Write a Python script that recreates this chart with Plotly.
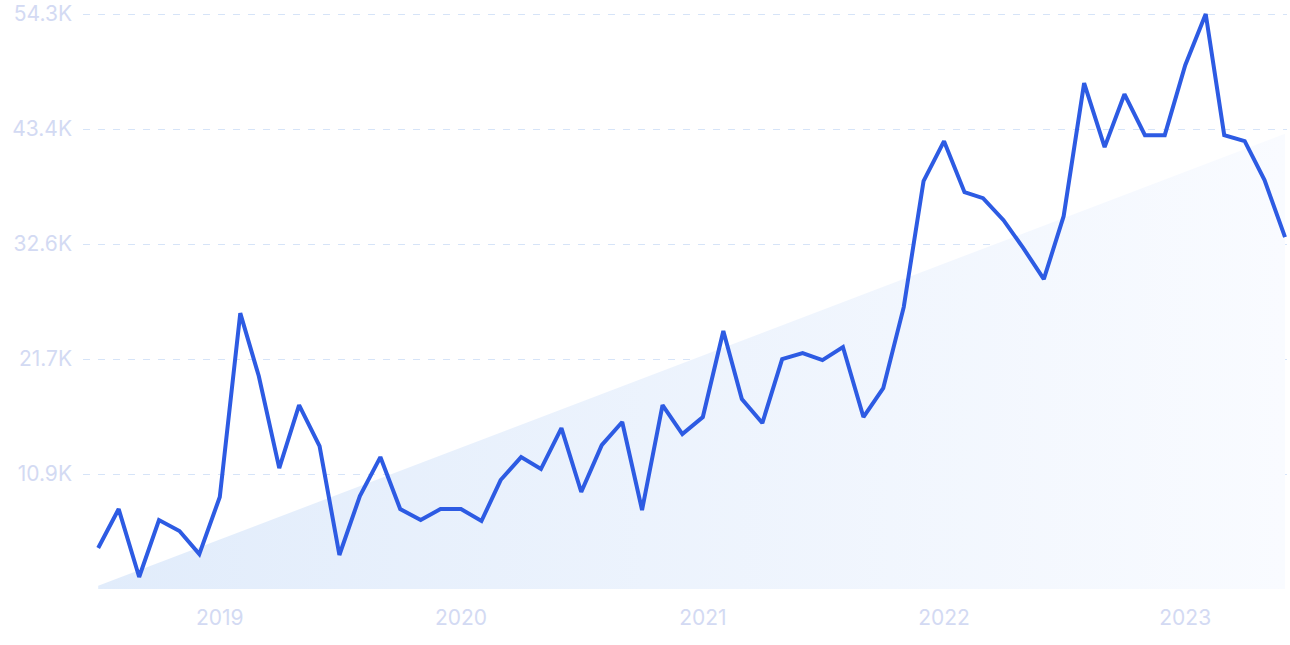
import pandas as pd
import plotly.graph_objects as go

months = pd.date_range("2018-07-01", "2023-06-01", freq="MS")
values = [3870, 7550, 1130, 6510, 5480, 3300, 8690, 26050, 20110, 11420,
          17370, 13500, 3210, 8780, 12460, 7550, 6510, 7550, 7550, 6420,
          10290, 12460, 11330, 15200, 9160, 13590, 15770, 7460, 17370, 14630,
          16240, 24360, 17940, 15670, 21710, 22280, 21620, 22850, 16240, 18970,
          26620, 38520, 42290, 37480, 36910, 34830, 32190, 29260, 35210, 47770,
          41730, 46730, 42860, 42860, 49470, 54300, 42860, 42290, 38610, 33230]
trend_dates = ["2018-07-01", "2023-06-01"]
trend_values = [300, 43000]
y_ticks = [10860, 21720, 32580, 43440, 54300]
y_tick_text = ["10.9K", "21.7K", "32.6K", "43.4K", "54.3K"]
x_ticks = ["2019-01-01", "2020-01-01", "2021-01-01", "2022-01-01", "2023-01-01"]
x_tick_text = ["2019", "2020", "2021", "2022", "2023"]

fig = go.Figure()
fig.add_trace(go.Scatter(
    x=trend_dates, y=trend_values, mode="lines", line=dict(width=0),
    fill="tozeroy",
    fillgradient=dict(type="horizontal",
                      colorscale=[[0, "#e1ecfb"], [1, "#f9fbff"]]),
    hoverinfo="skip", showlegend=False))
fig.add_trace(go.Scatter(
    x=months, y=values, mode="lines",
    line=dict(color="#2d5be3", width=4, shape="linear"),
    showlegend=False))

fig.update_layout(
    width=1290, height=645,
    margin=dict(l=83, r=3, t=1, b=56),
    paper_bgcolor="white", plot_bgcolor="white",
    font=dict(family="Inter", size=21, color="#d3daf3"),
    xaxis=dict(range=["2018-06-08", "2023-06-04"], tickvals=x_ticks, ticktext=x_tick_text,
               showgrid=False, zeroline=False, showline=False, ticks="",
               ticklabelstandoff=14),
    yaxis=dict(range=[0, 55530], tickvals=y_ticks, ticktext=y_tick_text,
               showgrid=True, gridcolor="#d6e4f8", griddash="7px,8px", gridwidth=1,
               zeroline=False, showline=False, ticks="", ticklabelstandoff=10),
)
fig.write_html("out.html")
